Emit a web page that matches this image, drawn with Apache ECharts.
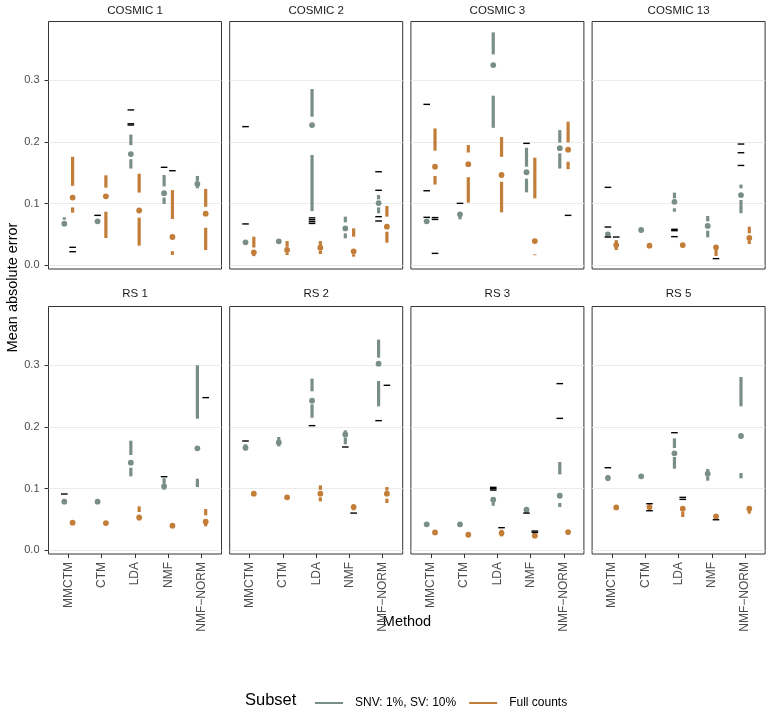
<!DOCTYPE html>
<html><head><meta charset="utf-8">
<script src="https://cdn.jsdelivr.net/npm/echarts@6/dist/echarts.min.js"></script>
<style>html,body{margin:0;padding:0;background:#fff}#c{width:768px;height:709px}</style>
</head><body><div id="c"></div>
<script>
const methods = ['MMCTM', 'CTM', 'LDA', 'NMF', 'NMF\u2212NORM'];
const panelNames = ['COSMIC 1', 'COSMIC 2', 'COSMIC 3', 'COSMIC 13', 'RS 1', 'RS 2', 'RS 3', 'RS 5'];
const subsetNames = ['SNV: 1%, SV: 10%', 'Full counts'];
const subsetColors = ['#798E87', '#C27D38'];
const yTicks = [0, 0.1, 0.2, 0.3];

// rows per method: [lower whisker, Q1, median, Q3, upper whisker]
const cosmic1Snv = [[0.066,0.066,0.0676,0.074,0.078],[0.070,0.070,0.0714,0.073,0.073],[0.157,0.172,0.1805,0.195,0.212],[0.0995,0.110,0.117,0.128,0.1465],[0.125,0.128,0.132,0.137,0.145]];
const cosmic1Full = [[0.0855,0.094,0.110,0.129,0.176],[0.0444,0.087,0.112,0.126,0.146],[0.032,0.0774,0.089,0.118,0.1486],[0.017,0.023,0.046,0.0752,0.122],[0.0249,0.061,0.0838,0.095,0.124]];
// outliers: [method index, subset index, value]
const cosmic1Out = [[0,1,0.0293],[0,1,0.0222],[1,0,0.0811],[2,0,0.252],[2,0,0.2295],[2,0,0.2275],[3,0,0.159],[3,1,0.1535]];

const cosmic2Snv = [[0.037,0.037,0.0374,0.038,0.038],[0.038,0.038,0.039,0.040,0.040],[0.088,0.179,0.2275,0.241,0.2858],[0.044,0.052,0.060,0.0698,0.079],[0.0844,0.094,0.101,0.107,0.114]];
const cosmic2Full = [[0.015,0.018,0.0212,0.029,0.0466],[0.0168,0.020,0.025,0.030,0.0395],[0.0185,0.024,0.0287,0.033,0.0395],[0.0142,0.018,0.0228,0.0466,0.060],[0.0368,0.0546,0.0627,0.079,0.0963]];
const cosmic2Out = [[0,0,0.2249],[0,0,0.0672],[2,0,0.077],[2,0,0.074],[2,0,0.071],[2,0,0.068],[4,0,0.1518],[4,0,0.1217],[4,0,0.079],[4,0,0.072]];

const cosmic3Snv = [[0.070,0.070,0.0714,0.073,0.073],[0.0747,0.079,0.0828,0.085,0.085],[0.223,0.275,0.3247,0.342,0.3777],[0.1184,0.1405,0.151,0.160,0.1907],[0.157,0.1816,0.190,0.199,0.2193]];
const cosmic3Full = [[0.131,0.145,0.160,0.186,0.222],[0.1017,0.143,0.164,0.183,0.195],[0.086,0.1356,0.1465,0.176,0.208],[0.0165,0.018,0.0395,0.1087,0.1746],[0.156,0.168,0.1876,0.1994,0.2329]];
const cosmic3Out = [[0,0,0.261],[0,0,0.121],[0,0,0.0779],[0,1,0.0775],[0,1,0.0745],[0,1,0.0195],[1,0,0.1006],[3,0,0.1978],[4,1,0.0811]];

const cosmic13Snv = [[0.049,0.049,0.0504,0.052,0.052],[0.056,0.056,0.0574,0.058,0.058],[0.087,0.0925,0.103,0.1086,0.118],[0.0455,0.0563,0.064,0.0714,0.080],[0.0846,0.106,0.114,0.125,0.131]];
const cosmic13Full = [[0.025,0.030,0.033,0.036,0.041],[0.031,0.031,0.032,0.033,0.033],[0.032,0.032,0.033,0.034,0.034],[0.0152,0.025,0.0293,0.031,0.031],[0.0347,0.040,0.0444,0.052,0.0627]];
const cosmic13Out = [[0,0,0.1265],[0,0,0.0622],[0,0,0.046],[0,1,0.046],[2,0,0.0585],[2,0,0.0563],[2,0,0.0466],[3,1,0.011],[4,0,0.1967],[4,0,0.1826],[4,0,0.162]];

const rs1Snv = [[0.078,0.078,0.0789,0.080,0.080],[0.078,0.078,0.0789,0.080,0.080],[0.12,0.134,0.1422,0.1546,0.1778],[0.0984,0.100,0.1038,0.108,0.117],[0.1027,0.1162,0.1654,0.2135,0.300]];
const rs1Full = [[0.043,0.044,0.0449,0.046,0.047],[0.043,0.043,0.0443,0.046,0.046],[0.0486,0.051,0.0535,0.0622,0.0714],[0.039,0.039,0.040,0.041,0.041],[0.039,0.043,0.0465,0.0568,0.067]];
const rs1Out = [[0,0,0.0914],[3,0,0.1195],[4,1,0.2476]];

const rs2Snv = [[0.162,0.164,0.1665,0.170,0.172],[0.1686,0.172,0.175,0.178,0.1838],[0.215,0.2368,0.2427,0.2578,0.2784],[0.172,0.183,0.188,0.191,0.1946],[0.2335,0.2746,0.3027,0.3124,0.3416]];
const rs2Full = [[0.091,0.091,0.0919,0.093,0.093],[0.085,0.085,0.086,0.087,0.087],[0.0795,0.086,0.0919,0.098,0.1054],[0.065,0.068,0.0703,0.072,0.0746],[0.0768,0.0838,0.0919,0.097,0.1027]];
const rs2Out = [[0,0,0.1773],[2,0,0.2022],[3,0,0.1676],[3,1,0.0605],[4,0,0.2103],[4,1,0.2676]];

const rs3Snv = [[0.041,0.041,0.0422,0.043,0.043],[0.041,0.041,0.0422,0.043,0.043],[0.0724,0.078,0.0822,0.085,0.0865],[0.061,0.063,0.066,0.068,0.068],[0.0703,0.0768,0.0886,0.1232,0.1432]];
const rs3Full = [[0.028,0.028,0.0292,0.030,0.030],[0.024,0.024,0.0254,0.026,0.026],[0.0227,0.025,0.0281,0.031,0.0335],[0.020,0.022,0.0238,0.026,0.028],[0.026,0.028,0.0297,0.031,0.033]];
const rs3Out = [[2,0,0.1022],[2,0,0.100],[2,0,0.0978],[2,1,0.0368],[3,0,0.0605],[3,1,0.0314],[3,1,0.0292],[4,0,0.2703],[4,0,0.214]];

const rs5Snv = [[0.113,0.115,0.1173,0.120,0.122],[0.119,0.119,0.120,0.121,0.121],[0.1324,0.1514,0.1573,0.166,0.1816],[0.113,0.120,0.1243,0.128,0.1319],[0.1168,0.1254,0.1854,0.2335,0.281]];
const rs5Full = [[0.069,0.069,0.0697,0.071,0.071],[0.066,0.067,0.0703,0.073,0.074],[0.054,0.063,0.0676,0.070,0.071],[0.054,0.054,0.0551,0.056,0.056],[0.0595,0.064,0.0676,0.070,0.0714]];
const rs5Out = [[0,0,0.134],[1,1,0.0757],[1,1,0.0643],[2,0,0.1908],[2,1,0.086],[2,1,0.0827],[3,1,0.0497]];

const panelSnv = [cosmic1Snv, cosmic2Snv, cosmic3Snv, cosmic13Snv, rs1Snv, rs2Snv, rs3Snv, rs5Snv];
const panelFull = [cosmic1Full, cosmic2Full, cosmic3Full, cosmic13Full, rs1Full, rs2Full, rs3Full, rs5Full];
const panelOut = [cosmic1Out, cosmic2Out, cosmic3Out, cosmic13Out, rs1Out, rs2Out, rs3Out, rs5Out];

// ---- layout / style ----
const FONT = '"Liberation Sans", Arial, sans-serif';
const dodge = [-0.125, 0.125];
const colLeft = [48.5, 229.7, 410.9, 592.1];
const rowTop = [21.5, 306.5];
const panelW = 173, panelH = 247.5;
const yMin = -0.00583, yMax = 0.3953;

function boxRender(offset) {
  return function (params, api) {
    const x = api.value(0) + offset;
    const pLo = api.coord([x, api.value(1)]);
    const pQ1 = api.coord([x, api.value(2)]);
    const pMed = api.coord([x, api.value(3)]);
    const pQ3 = api.coord([x, api.value(4)]);
    const pHi = api.coord([x, api.value(5)]);
    const color = api.visual('color');
    const children = [];
    if (pLo[1] - pQ1[1] > 0.3) children.push({ type: 'line', shape: { x1: pLo[0], y1: pLo[1], x2: pQ1[0], y2: pQ1[1] }, style: { stroke: color, lineWidth: 3.2, lineCap: 'butt' } });
    if (pQ3[1] - pHi[1] > 0.3) children.push({ type: 'line', shape: { x1: pQ3[0], y1: pQ3[1], x2: pHi[0], y2: pHi[1] }, style: { stroke: color, lineWidth: 3.2, lineCap: 'butt' } });
    children.push({ type: 'circle', shape: { cx: pMed[0], cy: pMed[1], r: 2.9 }, style: { fill: color } });
    return { type: 'group', children };
  };
}
function outRender(params, api) {
  const p = api.coord([api.value(0) + dodge[api.value(1)], api.value(2)]);
  return { type: 'rect', shape: { x: p[0] - 3.3, y: p[1] - 0.7, width: 6.6, height: 1.4 }, style: { fill: '#000' } };
}

const grids = [], xAxes = [], yAxes = [], series = [], titles = [];
panelNames.forEach((name, g) => {
  const row = Math.floor(g / 4), col = g % 4;
  grids.push({ left: colLeft[col], top: rowTop[row], width: panelW, height: panelH, show: true, borderColor: '#333333', borderWidth: 1, backgroundColor: '#fff' });
  xAxes.push({
    gridIndex: g, type: 'value', min: -0.6, max: 4.6, position: 'bottom',
    splitLine: { show: false }, axisLine: { show: false, onZero: false },
    axisTick: { show: row === 1, customValues: [0, 1, 2, 3, 4], length: 4, lineStyle: { color: '#333333', width: 1 } },
    axisLabel: { show: row === 1, customValues: [0, 1, 2, 3, 4], rotate: 90, margin: 8, fontSize: 12, color: '#4D4D4D', fontFamily: FONT,
      formatter: v => methods[Math.round(v)] }
  });
  yAxes.push({
    gridIndex: g, type: 'value', min: yMin, max: yMax, position: 'left',
    axisLine: { show: false, onZero: false },
    splitLine: { show: true, lineStyle: { color: '#EBEBEB', width: 1.2 } },
    axisTick: { show: col === 0, customValues: yTicks, length: 4, lineStyle: { color: '#333333', width: 1 } },
    axisLabel: { show: col === 0, customValues: yTicks, margin: 9, fontSize: 11, color: '#4D4D4D', fontFamily: FONT,
      formatter: v => v.toFixed(1) }
  });
  titles.push({ text: name, left: colLeft[col] + panelW / 2, top: row === 0 ? 5 : 288, textAlign: 'center', padding: 0,
    textStyle: { fontSize: 11.5, fontWeight: 'normal', color: '#1A1A1A', fontFamily: FONT } });
  [panelSnv[g], panelFull[g]].forEach((arr, s) => {
    series.push({
      type: 'custom', name: subsetNames[s], xAxisIndex: g, yAxisIndex: g,
      itemStyle: { color: subsetColors[s] },
      renderItem: boxRender(dodge[s]),
      encode: { x: 0, y: [1, 2, 3, 4, 5] },
      data: methods.map((m, i) => [i].concat(arr[i])),
      animation: false
    });
  });
  series.push({
    type: 'custom', name: 'outliers', xAxisIndex: g, yAxisIndex: g,
    renderItem: outRender, encode: { x: 0, y: 2 },
    data: panelOut[g], animation: false, z: 3
  });
});

const chart = echarts.init(document.getElementById('c'), null, { renderer: 'canvas' });
chart.setOption({
  animation: false,
  backgroundColor: '#ffffff',
  textStyle: { fontFamily: FONT },
  title: titles,
  grid: grids, xAxis: xAxes, yAxis: yAxes,
  legend: {
    data: subsetNames, left: 310, top: 692, icon: 'rect', itemWidth: 28, itemHeight: 2, itemGap: 13,
    textStyle: { fontSize: 12, color: '#000', fontFamily: FONT, padding: [0, 0, 0, 7] },
    selectedMode: false
  },
  graphic: [
    { type: 'text', x: 13, y: 287.5, rotation: Math.PI / 2, style: { text: 'Mean absolute error', fill: '#000', font: '14.5px ' + FONT, align: 'center', verticalAlign: 'middle' } },
    { type: 'text', x: 407, y: 622, style: { text: 'Method', fill: '#000', font: '14.5px ' + FONT, align: 'center', verticalAlign: 'middle' } },
    { type: 'text', x: 245, y: 700, style: { text: 'Subset', fill: '#000', font: '16.5px ' + FONT, align: 'left', verticalAlign: 'middle' } }
  ],
  series
});
</script></body></html>
